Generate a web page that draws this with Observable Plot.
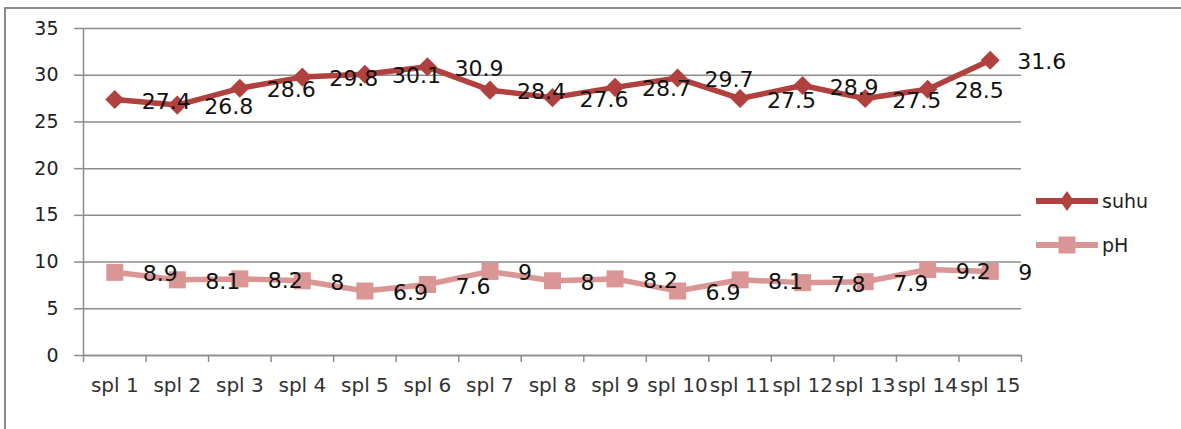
<!DOCTYPE html>
<html>
<head>
<meta charset="utf-8">
<script src="https://cdn.jsdelivr.net/npm/d3@7"></script>
<script src="https://cdn.jsdelivr.net/npm/@observablehq/plot@0.6"></script>
<style>
  html, body { margin: 0; padding: 0; background: #fff; }
  #wrap { position: relative; width: 1181px; height: 429px; overflow: hidden; font-family: "DejaVu Sans", sans-serif; }
  #frame { position: absolute; left: 4px; top: 7px; width: 1300px; height: 500px; border-left: 2px solid #8c8c8c; border-top: 2px solid #8c8c8c; pointer-events: none; z-index: 2; }
  #legend { position: absolute; left: 1035px; top: 188px; font-size: 19px; color: #222; z-index: 3; }
  .item { display: flex; align-items: center; height: 26px; margin-bottom: 18px; }
  .item span { margin-left: 3px; }
</style>
</head>
<body>
<div id="wrap">
  <div id="frame"></div>
  <div id="chart"></div>
  <div id="legend"></div>
</div>
<script>
const categories = ["spl 1","spl 2","spl 3","spl 4","spl 5","spl 6","spl 7","spl 8","spl 9","spl 10","spl 11","spl 12","spl 13","spl 14","spl 15"];
const suhu = [27.4, 26.8, 28.6, 29.8, 30.1, 30.9, 28.4, 27.6, 28.7, 29.7, 27.5, 28.9, 27.5, 28.5, 31.6];
const pH = [8.9, 8.1, 8.2, 8, 6.9, 7.6, 9, 8, 8.2, 6.9, 8.1, 7.8, 7.9, 9.2, 9];
const yTicks = [0, 5, 10, 15, 20, 25, 30, 35];
const seriesNames = ["suhu", "pH"];
const colors = {suhu: "#b0413e", pH: "#d99694"};

const n = categories.length;
const idx = categories.map((c, i) => i + 1);
const bounds = d3.range(0, n + 1).map(i => i + 0.5);
const suhuData = categories.map((c, i) => ({i: i + 1, v: suhu[i]}));
const pHData = categories.map((c, i) => ({i: i + 1, v: pH[i]}));

const plot = Plot.plot({
  width: 1181,
  height: 429,
  marginLeft: 83,
  marginRight: 160,
  marginTop: 28,
  marginBottom: 74,
  style: {background: "transparent", fontFamily: "DejaVu Sans, sans-serif", color: "#222"},
  x: {type: "linear", domain: [0.5, n + 0.5]},
  y: {domain: [0, 35]},
  marks: [
    Plot.gridY(yTicks, {stroke: "#8c8c8c", strokeOpacity: 1, strokeWidth: 1.5}),
    Plot.axisY(yTicks, {tickSize: 9, tickPadding: 16, fontSize: 19, stroke: "#8c8c8c", strokeWidth: 1.5, label: null, fill: "#222"}),
    Plot.ruleX([0.5], {y1: 0, y2: 35, stroke: "#8c8c8c", strokeWidth: 1.5}),
    Plot.ruleY([0], {stroke: "#8c8c8c", strokeWidth: 1.5}),
    Plot.axisX(bounds, {tickSize: 7, tickFormat: () => "", stroke: "#8c8c8c", strokeWidth: 1.5, label: null}),
    Plot.axisX(idx, {tickSize: 0, tickPadding: 22, fontSize: 20, tickFormat: d => categories[d - 1], label: null, fill: "#333"}),
    Plot.line(pHData, {x: "i", y: "v", stroke: colors.pH, strokeWidth: 5.5}),
    Plot.dot(pHData, {x: "i", y: "v", symbol: "square", r: 9.6, fill: colors.pH, stroke: "none"}),
    Plot.line(suhuData, {x: "i", y: "v", stroke: colors.suhu, strokeWidth: 5.5}),
    Plot.dot(suhuData, {x: "i", y: "v", symbol: "diamond2", r: 8.6, fill: colors.suhu, stroke: "none"}),
    Plot.text(suhuData, {x: "i", y: "v", text: d => String(d.v), textAnchor: "start", dx: 27, dy: 2, fontSize: 22, fill: "#111"}),
    Plot.text(pHData, {x: "i", y: "v", text: d => String(d.v), textAnchor: "start", dx: 28, dy: 2, fontSize: 22, fill: "#111"})
  ]
});
document.getElementById("chart").appendChild(plot);

const legend = d3.select("#legend");
seriesNames.forEach(name => {
  const item = legend.append("div").attr("class", "item");
  const svg = item.append("svg").attr("width", 64).attr("height", 26);
  svg.append("line").attr("x1", 1).attr("x2", 63).attr("y1", 13).attr("y2", 13)
    .attr("stroke", colors[name]).attr("stroke-width", 6);
  if (name === "suhu") {
    svg.append("path").attr("d", "M32,3 L39,13 L32,23 L25,13 Z").attr("fill", colors[name]);
  } else {
    svg.append("rect").attr("x", 23.5).attr("y", 4.5).attr("width", 17).attr("height", 17).attr("fill", colors[name]);
  }
  item.append("span").text(name);
});
</script>
</body>
</html>
